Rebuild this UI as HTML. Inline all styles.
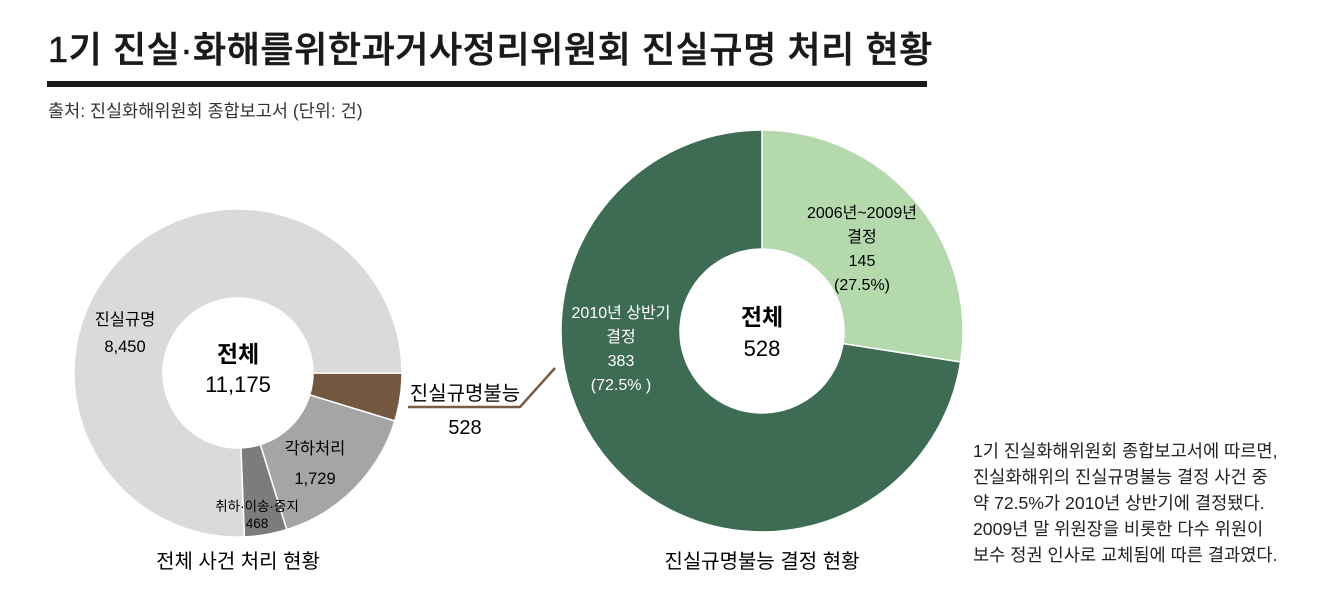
<!DOCTYPE html>
<html><head><meta charset="utf-8">
<style>
body{margin:0;width:1343px;height:614px;background:#fff;overflow:hidden;font-family:"Liberation Sans","Noto Sans CJK KR",sans-serif;color:#222}
#title{position:absolute;left:48px;top:21px;font-size:36px;font-weight:500;letter-spacing:0.6px;white-space:nowrap;color:#1a1a1a;-webkit-text-stroke:0.6px #1a1a1a}
#rule{position:absolute;left:47px;top:81px;width:880px;height:6px;background:#1a1a1a}
#src{position:absolute;left:48px;top:98px;font-size:17.5px;color:#333}
#note{position:absolute;left:973px;top:438px;font-size:17.6px;line-height:26px;color:#222;white-space:nowrap}
svg{position:absolute;left:0;top:0}
svg text{font-family:"Liberation Sans","Noto Sans CJK KR",sans-serif}
</style></head><body>
<div id="title">1기 진실·화해를위한과거사정리위원회 진실규명 처리 현황</div>
<div id="rule"></div>
<div id="src">출처: 진실화해위원회 종합보고서 (단위: 건)</div>
<div id="note">1기 진실화해위원회 종합보고서에 따르면,<br>진실화해위의 진실규명불능 결정 사건 중<br>약 72.5%가 2010년 상반기에 결정됐다.<br>2009년 말 위원장을 비롯한 다수 위원이<br>보수 정권 인사로 교체됨에 따른 결과였다.</div>
<svg id="chart" width="1343" height="614">
<g id="left"></g><g id="right"></g>
<polyline points="408,407 520,407 555,368" fill="none" stroke="#7a5c43" stroke-width="2.5"/>
<text x="465" y="400" text-anchor="middle" font-size="20">진실규명불능</text>
<text x="465" y="434" text-anchor="middle" font-size="20">528</text>
<text x="238" y="362" text-anchor="middle" font-size="23" font-weight="700">전체</text>
<text x="238" y="392" text-anchor="middle" font-size="22">11,175</text>
<text x="762" y="325" text-anchor="middle" font-size="23" font-weight="700">전체</text>
<text x="762" y="356" text-anchor="middle" font-size="22">528</text>
<text x="125" y="325" text-anchor="middle" font-size="16.5">진실규명</text>
<text x="125" y="352" text-anchor="middle" font-size="16.5">8,450</text>
<text x="315" y="454" text-anchor="middle" font-size="16.5">각하처리</text>
<text x="315" y="484" text-anchor="middle" font-size="16.5">1,729</text>
<text x="257" y="511" text-anchor="middle" font-size="13.5">취하·이송·중지</text>
<text x="257" y="528" text-anchor="middle" font-size="13.5">468</text>
<g font-size="16" text-anchor="middle">
<text x="862" y="218">2006년~2009년</text>
<text x="862" y="242">결정</text>
<text x="862" y="266">145</text>
<text x="862" y="290">(27.5%)</text>
<g fill="#fff">
<text x="621" y="318">2010년 상반기</text>
<text x="621" y="342">결정</text>
<text x="621" y="366">383</text>
<text x="621" y="390">(72.5% )</text>
</g></g>
<text x="238" y="568" text-anchor="middle" font-size="20">전체 사건 처리 현황</text>
<text x="762" y="568" text-anchor="middle" font-size="20">진실규명불능 결정 현황</text>
</svg>
<script>
const leftCats=["진실규명불능","각하처리","취하·이송·중지","진실규명"];
const leftVals=[528,1729,468,8450];
const leftColors=["#74573f","#a5a5a5","#7c7c7c","#dadada"];
const rightCats=["2006년~2009년 결정","2010년 상반기 결정"];
const rightVals=[145,383];
const rightColors=["#b3d9ad","#3d6b53"];
function arc(cx,cy,r0,r1,a0,a1){
  const p=(r,a)=>[cx+r*Math.cos(a),cy+r*Math.sin(a)];
  const large=(a1-a0)>Math.PI?1:0;
  const [x0,y0]=p(r1,a0),[x1,y1]=p(r1,a1),[x2,y2]=p(r0,a1),[x3,y3]=p(r0,a0);
  return `M${x0},${y0}A${r1},${r1} 0 ${large} 1 ${x1},${y1}L${x2},${y2}A${r0},${r0} 0 ${large} 0 ${x3},${y3}Z`;
}
function donut(gid,cats,vals,colors,cx,cy,r0,r1,start){
  const g=document.getElementById(gid);
  const tot=vals.reduce((a,b)=>a+b,0);
  let a=start;
  vals.forEach((v,i)=>{
    const a1=a+v/tot*2*Math.PI;
    const el=document.createElementNS("http://www.w3.org/2000/svg","path");
    el.setAttribute("d",arc(cx,cy,r0,r1,a,a1));
    el.setAttribute("fill",colors[i]);
    el.setAttribute("stroke","#fff");
    el.setAttribute("stroke-width","1.5");
    
    
    g.appendChild(el);
    a=a1;
  });
}
donut("left",leftCats,leftVals,leftColors,238,373,75,164,0);
donut("right",rightCats,rightVals,rightColors,762,331,82,201,-Math.PI/2);
</script>
</body></html>
